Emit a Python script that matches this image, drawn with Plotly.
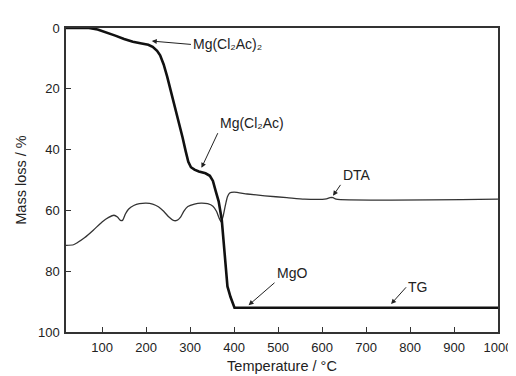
import plotly.graph_objects as go

# TG curve (mass loss, %)
tg_temp = [18, 70, 90, 110, 130, 150, 170, 190, 205, 215, 225, 232, 240, 248, 256, 265, 275, 283,
           290, 296, 302, 310, 320, 335, 345, 352, 358, 365, 372, 380, 385, 392, 401, 1000]
tg_loss = [0, 0, 0.5, 1.4, 2.5, 3.6, 4.5, 5.1, 5.5, 6.2, 7.5, 9, 12, 16, 20.5, 25, 31, 36,
           40.5, 44, 45.8, 46.6, 47.2, 47.8, 48.6, 50.3, 53.5, 57, 63, 77, 85, 88.5, 92, 92]

# DTA curve (plotted on the same scale)
dta_temp = [18, 35, 45, 60, 80, 100, 115, 127, 135, 142, 147, 153, 160, 172, 185, 200, 215, 228,
            240, 252, 262, 270, 278, 286, 295, 310, 325, 340, 352, 360, 366, 371, 375, 380, 385,
            390, 400, 430, 470, 520, 560, 610, 618, 625, 632, 1000]
dta_val = [71.5, 71.3, 70.5, 69, 66.5, 63.8, 62.3, 61.6, 62.2, 63.3, 63.2, 61.2, 59.6, 58.4, 57.8,
           57.6, 57.9, 58.8, 60.3, 62.2, 63.3, 63.3, 62.3, 60.2, 58.7, 57.9, 57.6, 57.8, 58.6, 60.3,
           62.5, 63.8, 62, 58.5, 55.5, 54.3, 54, 54.6, 55.2, 55.8, 56.3, 56.2, 55.8, 55.8, 56.3, 56.3]

x_ticks = [100, 200, 300, 400, 500, 600, 700, 800, 900, 1000]
y_ticks = [0, 20, 40, 60, 80, 100]

# labelled arrows: (text, tail_x, tail_y, head_x, head_y, xanchor, yanchor)
callouts = [
    ("Mg(Cl₂Ac)₂", 302, 5.4, 213, 4.3, "left", "middle"),
    ("Mg(Cl₂Ac)", 363, 34.6, 326, 46, "left", "bottom"),
    ("DTA", 642, 51.6, 625, 55.2, "left", "bottom"),
    ("MgO", 492, 83.8, 433, 91.2, "left", "bottom"),
    ("TG", 791, 85.3, 757, 90.8, "left", "middle"),
]

fig = go.Figure()
fig.add_trace(go.Scatter(x=dta_temp, y=dta_val, mode="lines",
                         line=dict(color="#333333", width=1.3, shape="spline", smoothing=0.6),
                         showlegend=False))
fig.add_trace(go.Scatter(x=tg_temp, y=tg_loss, mode="lines",
                         line=dict(color="#111111", width=2.6),
                         showlegend=False))

for text, tx, ty, hx, hy, xa, ya in callouts:
    fig.add_annotation(x=hx, y=hy, ax=tx, ay=ty, axref="x", ayref="y", text=text,
                       xanchor=xa, yanchor=ya,
                       showarrow=True, arrowhead=2, arrowsize=1.0, arrowwidth=1,
                       arrowcolor="#222222", standoff=0,
                       font=dict(family="Liberation Sans, DejaVu Sans", size=14, color="#222222"))

axis_common = dict(showline=True, linecolor="#333333", linewidth=1.5, mirror=True,
                   ticks="inside", ticklen=5, tickwidth=1.2, tickcolor="#333333",
                   showgrid=False, zeroline=False,
                   tickfont=dict(family="Liberation Sans, Arial", size=13, color="#222222"))

fig.update_layout(
    width=516, height=376,
    margin=dict(l=58, r=18, t=20, b=45),
    paper_bgcolor="white", plot_bgcolor="white",
    xaxis=dict(range=[18, 1000], tickvals=x_ticks, ticklabelstandoff=3,
               title=dict(text="Temperature / °C", standoff=7,
                          font=dict(family="Liberation Sans, Arial", size=14.5, color="#222222")),
               **axis_common),
    yaxis=dict(range=[100, 0], tickvals=y_ticks, ticklabelstandoff=2,
               title=dict(text="Mass loss / %", standoff=8,
                          font=dict(family="Liberation Sans, Arial", size=14.5, color="#222222")),
               **axis_common),
)

fig.write_html("out.html")
